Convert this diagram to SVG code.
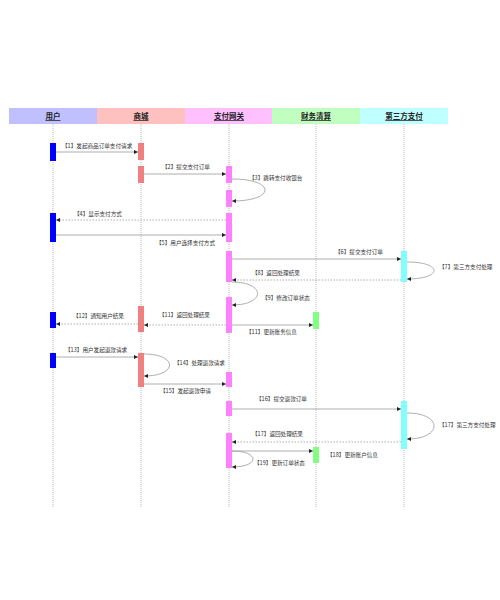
<svg xmlns="http://www.w3.org/2000/svg" width="500" height="600" viewBox="0 0 500 600">
<defs>
<style>
.hdr{font-family:"Noto Sans CJK SC","Noto Sans",sans-serif;font-size:7.5px;font-weight:bold;fill:#222;text-decoration:underline;text-anchor:middle}
.lbl{font-family:"Noto Sans CJK SC","Noto Sans",sans-serif;font-size:5.6px;fill:#333}
.life{stroke:#aaa;stroke-width:0.8;stroke-dasharray:1,1;fill:none}
.msg{stroke:#999;stroke-width:0.8;fill:none;marker-end:url(#ah)}
.ret{stroke:#999;stroke-width:0.8;fill:none;stroke-dasharray:1.5,1.5;marker-end:url(#ah)}
.u{fill:#0000ff}.m{fill:#f08080}.g{fill:#ff80ff}.f{fill:#80ff80}.t{fill:#80ffff}
</style>
<marker id="ah" markerUnits="userSpaceOnUse" markerWidth="5" markerHeight="4" refX="4" refY="2" orient="auto">
<path d="M0,0 L4,2 L0,4 Z" fill="#222"/>
</marker>
</defs>
<rect width="500" height="600" fill="#fff"/>
<g id="header">
<rect x="9" y="108" width="88" height="16" fill="#c0c0ff"/>
<rect x="97" y="108" width="88" height="16" fill="#ffc0c0"/>
<rect x="185" y="108" width="87" height="16" fill="#ffc0ff"/>
<rect x="272" y="108" width="88" height="16" fill="#c0ffc0"/>
<rect x="360" y="108" width="88" height="16" fill="#c0ffff"/>
</g>
<g id="lifelines">
<line class="life" x1="53" y1="124" x2="53" y2="508"/>
<line class="life" x1="141" y1="124" x2="141" y2="508"/>
<line class="life" x1="229" y1="124" x2="229" y2="508"/>
<line class="life" x1="316" y1="124" x2="316" y2="508"/>
<line class="life" x1="404" y1="124" x2="404" y2="508"/>
</g>
<g id="user">
<text class="hdr" x="53" y="119">用户</text>
<rect class="u" x="50" y="143" width="6" height="18"/>
<rect class="u" x="50" y="213" width="6" height="29"/>
<rect class="u" x="50" y="312" width="6" height="16"/>
<rect class="u" x="50" y="353" width="6" height="15"/>
</g>
<g id="mall">
<text class="hdr" x="141" y="119">商城</text>
<rect class="m" x="138" y="143" width="6" height="17"/>
<rect class="m" x="138" y="166" width="6" height="17"/>
<rect class="m" x="138" y="306" width="6" height="26"/>
<rect class="m" x="138" y="353" width="6" height="34"/>
</g>
<g id="gateway">
<text class="hdr" x="229" y="119">支付网关</text>
<rect class="g" x="226" y="166" width="6" height="17"/>
<rect class="g" x="226" y="190" width="6" height="17"/>
<rect class="g" x="226" y="213" width="6" height="29"/>
<rect class="g" x="226" y="251" width="6" height="31"/>
<rect class="g" x="226" y="297" width="6" height="36"/>
<rect class="g" x="226" y="372" width="6" height="15"/>
<rect class="g" x="226" y="401" width="6" height="15"/>
<rect class="g" x="226" y="433" width="6" height="35"/>
</g>
<g id="finance">
<text class="hdr" x="316" y="119">财务清算</text>
<rect class="f" x="313" y="312" width="6" height="17"/>
<rect class="f" x="313" y="447" width="6" height="16"/>
</g>
<g id="thirdparty">
<text class="hdr" x="404" y="119">第三方支付</text>
<rect class="t" x="401" y="251" width="6" height="31"/>
<rect class="t" x="401" y="401" width="6" height="48"/>
</g>
<g id="connectors">
<line class="msg" x1="56" y1="152" x2="138" y2="152"/>
<text class="lbl" x="62" y="148">【1】发起商品订单支付请求</text>
<line class="msg" x1="144" y1="174" x2="226" y2="174"/>
<text class="lbl" x="162" y="169">【2】提交支付订单</text>
<path class="msg" d="M232,179 C276,179 276,201 232,201"/>
<text class="lbl" x="249" y="180">【3】跳转支付收银台</text>
<line class="ret" x1="226" y1="220" x2="56" y2="220"/>
<text class="lbl" x="74" y="216">【4】显示支付方式</text>
<line class="msg" x1="56" y1="235" x2="226" y2="235"/>
<text class="lbl" x="156" y="245">【5】用户选择支付方式</text>
<line class="msg" x1="232" y1="259" x2="401" y2="259"/>
<text class="lbl" x="335" y="254">【6】提交支付订单</text>
<path class="msg" d="M407,262 C443,262 443,279 407,279"/>
<text class="lbl" x="439" y="269">【7】第三方支付处理</text>
<line class="ret" x1="401" y1="280" x2="232" y2="280"/>
<text class="lbl" x="252" y="275">【8】返回处理结果</text>
<path class="msg" d="M232,282 C266,282 266,305 232,305"/>
<text class="lbl" x="262" y="300">【9】修改订单状态</text>
<line class="msg" x1="232" y1="325" x2="313" y2="325"/>
<text class="lbl" x="246" y="334">【11】更新账务信息</text>
<line class="ret" x1="226" y1="325" x2="144" y2="325"/>
<text class="lbl" x="159" y="317">【11】返回处理结果</text>
<line class="ret" x1="138" y1="324" x2="56" y2="324"/>
<text class="lbl" x="73" y="318">【12】通知用户结果</text>
<line class="msg" x1="56" y1="357" x2="138" y2="357"/>
<text class="lbl" x="65" y="352">【13】用户发起退款请求</text>
<path class="msg" d="M144,354 C178,354 178,376 144,376"/>
<text class="lbl" x="174" y="365">【14】处理退款请求</text>
<line class="msg" x1="144" y1="384" x2="226" y2="384"/>
<text class="lbl" x="160" y="393">【15】发起退款申请</text>
<line class="msg" x1="232" y1="409" x2="401" y2="409"/>
<text class="lbl" x="256" y="401">【16】提交退款订单</text>
<path class="msg" d="M407,413 C443,413 443,439 407,439"/>
<text class="lbl" x="439" y="427">【17】第三方支付处理</text>
<line class="ret" x1="401" y1="442" x2="232" y2="442"/>
<text class="lbl" x="252" y="436">【17】返回处理结果</text>
<line class="msg" x1="232" y1="451" x2="313" y2="451"/>
<text class="lbl" x="327" y="457">【18】更新账户信息</text>
<path class="msg" d="M232,451 C260,451 260,467 232,467"/>
<text class="lbl" x="254" y="465">【19】更新订单状态</text>
</g>
</svg>
